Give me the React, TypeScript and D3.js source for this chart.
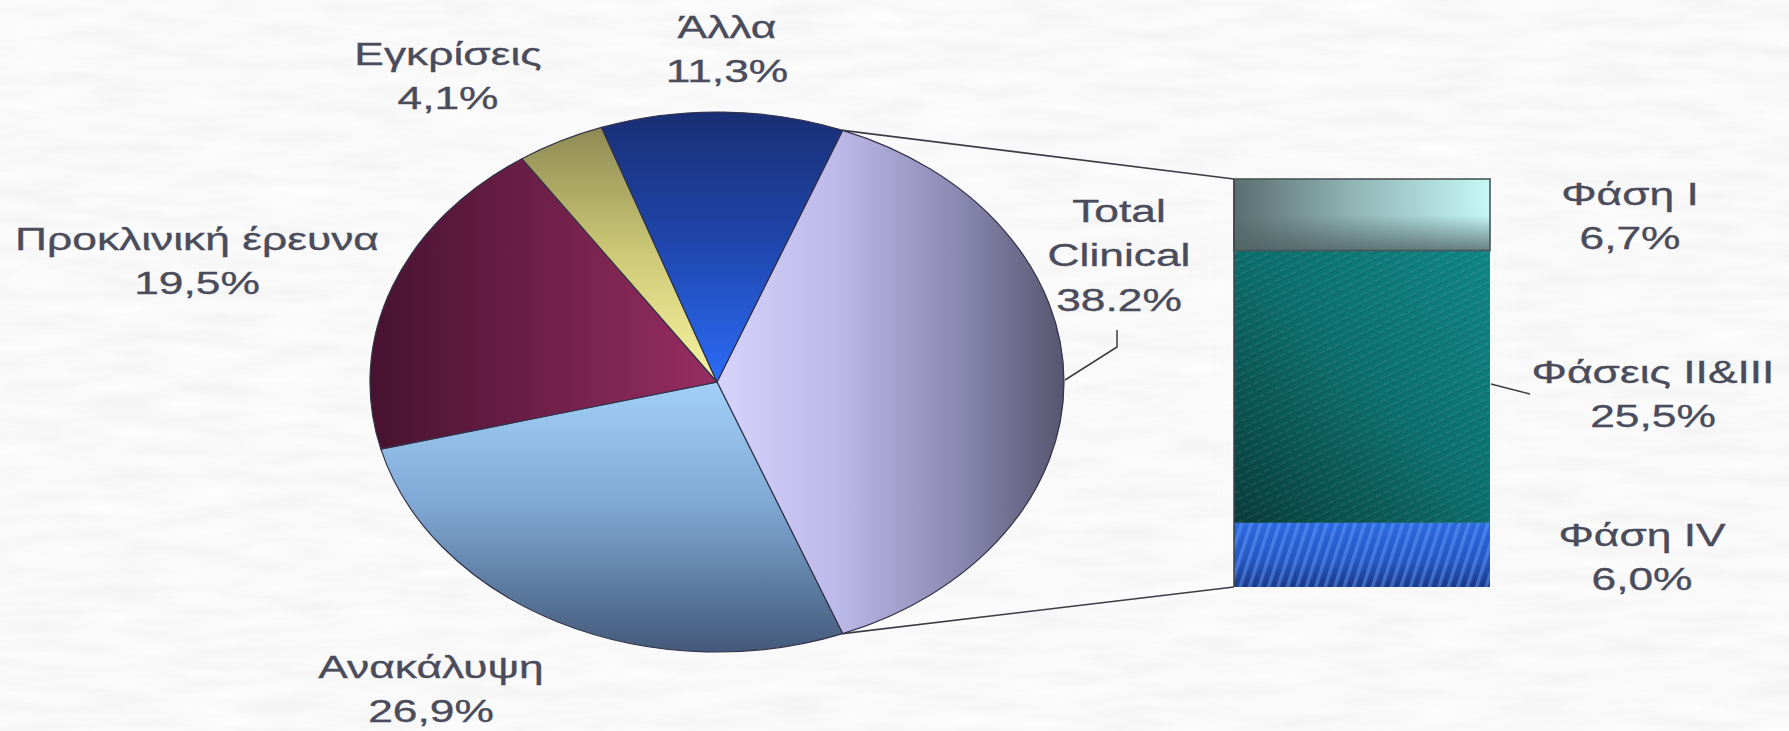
import React from "react";
import * as d3 from "d3";

// ---- Data ----
const pieCategories = ["Total Clinical", "Ανακάλυψη", "Προκλινική έρευνα", "Εγκρίσεις", "Άλλα"];
const pieValues = [38.2, 26.9, 19.5, 4.1, 11.3];
const pieValueLabels = ["38.2%", "26,9%", "19,5%", "4,1%", "11,3%"];
const pieNameLines = [["Total", "Clinical"], ["Ανακάλυψη"], ["Προκλινική έρευνα"], ["Εγκρίσεις"], ["Άλλα"]];

const barCategories = ["Φάση I", "Φάσεις II&III", "Φάση IV"];
const barValues = [6.7, 25.5, 6.0];
const barValueLabels = ["6,7%", "25,5%", "6,0%"];

// ---- Layout ----
const W = 1789;
const H = 731;
const cx = 717;
const cy = 382;
const R = 270;
const SX = 347 / 270;
const barX0 = 1234;
const barX1 = 1490;
const barY0 = 179;
const barY1 = 587;

const pieLabelPos: [number, number][] = [
  [1119, 222],
  [431, 678],
  [197, 250],
  [448, 65],
  [727, 38],
];
const barLabelPos: [number, number][] = [
  [1630, 205],
  [1653, 383],
  [1642, 546],
];

const FONT = "'Liberation Sans', Arial, sans-serif";
const TEXT_COLOR = "#4a4c5c";
const FS = 31;
const LH = 44.5;
const TSX = 1.43;

const sliceFills = ["url(#gTotal)", "url(#gDisc)", "url(#gPre)", "url(#gAppr)", "url(#gOther)"];

function Label({ x, y, lines }: { x: number; y: number; lines: string[] }) {
  return (
    <text
      transform={`translate(${x},${y}) scale(${TSX},1)`}
      textAnchor="middle"
      fontFamily={FONT}
      fontSize={FS}
      fill={TEXT_COLOR}
      stroke={TEXT_COLOR}
      strokeWidth={0.35}
    >
      {lines.map((l, i) => (
        <tspan key={i} x={0} dy={i === 0 ? 0 : LH}>
          {l}
        </tspan>
      ))}
    </text>
  );
}

export default function App() {
  const total = d3.sum(pieValues);
  const clinicalFrac = pieValues[0] / total;
  const start = Math.PI / 2 - clinicalFrac * Math.PI;
  const pie = d3
    .pie<number>()
    .sort(null)
    .value((d) => d)
    .startAngle(start)
    .endAngle(start + 2 * Math.PI);
  const arcs = pie(pieValues);
  const arc = d3.arc<d3.PieArcDatum<number>>().innerRadius(0).outerRadius(R);

  const edge = (a: number): [number, number] => [cx + R * SX * Math.sin(a), cy - R * Math.cos(a)];
  const pTop = edge(arcs[0].startAngle);
  const pBot = edge(arcs[0].endAngle);

  const y = d3.scaleLinear().domain([0, d3.sum(barValues)]).range([barY0, barY1]);
  const cum = barValues.reduce<number[]>((acc, v, i) => {
    acc.push((i ? acc[i - 1] : 0) + v);
    return acc;
  }, []);
  const barFills = ["url(#gP1)", "url(#gP23)", "url(#gP4)"];
  const barOverlays = ["url(#gP1shade)", "url(#patP23)", "url(#patP4)"];

  const line = d3.line();
  const midP23 = y(cum[0] + barValues[1] * 0.49);

  return (
    <svg
      width={W}
      height={H}
      style={{ position: "absolute", left: 0, top: 0, display: "block" }}
      xmlns="http://www.w3.org/2000/svg"
    >
      <defs>
        <filter id="paper" x="0" y="0" width="100%" height="100%">
          <feTurbulence type="fractalNoise" baseFrequency="0.012 0.07" numOctaves="4" seed="7" />
          <feColorMatrix
            type="matrix"
            values="0.12 0 0 0 0.885  0.12 0 0 0 0.885  0.12 0 0 0 0.885  0 0 0 0 1"
          />
        </filter>
        <filter id="glow" x="-20%" y="-20%" width="140%" height="140%">
          <feGaussianBlur stdDeviation="14" />
        </filter>
        <linearGradient id="gTotal" x1="0" y1="0" x2="1" y2="0">
          <stop offset="0" stopColor="#d6d3fb" />
          <stop offset="0.35" stopColor="#bcb8e8" />
          <stop offset="0.7" stopColor="#8a88b0" />
          <stop offset="1" stopColor="#56566f" />
        </linearGradient>
        <linearGradient id="gDisc" x1="0" y1="0" x2="0" y2="1">
          <stop offset="0" stopColor="#a2d0f8" />
          <stop offset="0.45" stopColor="#7fa8d4" />
          <stop offset="1" stopColor="#43597a" />
        </linearGradient>
        <linearGradient id="gPre" x1="0" y1="0" x2="1" y2="0">
          <stop offset="0" stopColor="#481230" />
          <stop offset="0.5" stopColor="#6e2048" />
          <stop offset="1" stopColor="#982e62" />
        </linearGradient>
        <linearGradient id="gAppr" x1="0" y1="0" x2="0" y2="1">
          <stop offset="0" stopColor="#8e8a54" />
          <stop offset="0.5" stopColor="#cdc976" />
          <stop offset="1" stopColor="#f8f4a0" />
        </linearGradient>
        <linearGradient id="gOther" x1="0" y1="0" x2="0" y2="1">
          <stop offset="0" stopColor="#192f74" />
          <stop offset="0.45" stopColor="#1f44a8" />
          <stop offset="1" stopColor="#2b6cf8" />
        </linearGradient>
        <linearGradient id="gP1" x1="0" y1="0" x2="1" y2="0">
          <stop offset="0" stopColor="#5a6e70" />
          <stop offset="0.45" stopColor="#8fb2b2" />
          <stop offset="1" stopColor="#c6f8f8" />
        </linearGradient>
        <linearGradient id="gP1shade" x1="0" y1="0" x2="0" y2="1">
          <stop offset="0" stopColor="#4e6264" stopOpacity="0" />
          <stop offset="0.5" stopColor="#4e6264" stopOpacity="0" />
          <stop offset="1" stopColor="#4e6264" stopOpacity="0.8" />
        </linearGradient>
        <linearGradient id="gP23" x1="1" y1="0" x2="0" y2="1">
          <stop offset="0" stopColor="#0f8886" />
          <stop offset="0.5" stopColor="#0c6e6c" />
          <stop offset="1" stopColor="#083c3b" />
        </linearGradient>
        <pattern id="patP23" patternUnits="userSpaceOnUse" width="9" height="7" patternTransform="rotate(-25)">
          <ellipse cx="4.5" cy="3" rx="3.5" ry="1.3" fill="#ffffff" fillOpacity="0.07" />
          <ellipse cx="4.5" cy="4.6" rx="3.5" ry="0.9" fill="#000000" fillOpacity="0.12" />
        </pattern>
        <linearGradient id="gP4" x1="0" y1="0" x2="0" y2="1">
          <stop offset="0" stopColor="#2d6ae0" />
          <stop offset="0.6" stopColor="#2656c0" />
          <stop offset="1" stopColor="#1a3a8a" />
        </linearGradient>
        <pattern id="patP4" patternUnits="userSpaceOnUse" width="9" height="9" patternTransform="rotate(18)">
          <rect x="0" y="0" width="3.5" height="9" fill="#6aa2ff" fillOpacity="0.45" />
        </pattern>
      </defs>

      {/* background */}
      <rect x={0} y={0} width={W} height={H} fill="#eeeeee" />
      <rect x={0} y={0} width={W} height={H} filter="url(#paper)" />

      {/* soft halo */}
      <g filter="url(#glow)" opacity={0.7}>
        <ellipse cx={cx} cy={cy} rx={R * SX + 8} ry={R + 8} fill="#fafafa" />
        <rect x={barX0 - 8} y={barY0 - 8} width={barX1 - barX0 + 16} height={barY1 - barY0 + 16} fill="#fafafa" />
      </g>

      {/* connectors */}
      <path d={line([pTop, [barX0, barY0]]) || ""} stroke="#3c3c44" strokeWidth={1.6} fill="none" />
      <path d={line([pBot, [barX0, barY1]]) || ""} stroke="#3c3c44" strokeWidth={1.6} fill="none" />

      {/* pie */}
      <g transform={`translate(${cx},${cy}) scale(${SX},1)`}>
        {arcs.map((a, i) => (
          <path
            key={pieCategories[i]}
            d={arc(a) || ""}
            fill={sliceFills[i]}
            stroke="#33334a"
            strokeWidth={1.2}
            vectorEffect="non-scaling-stroke"
          />
        ))}
      </g>

      {/* bar of pie */}
      {barValues.map((v, i) => {
        const y0 = y(i ? cum[i - 1] : 0);
        const y1 = y(cum[i]);
        return (
          <g key={barCategories[i]}>
            <rect x={barX0} y={y0} width={barX1 - barX0} height={y1 - y0} fill={barFills[i]} />
            <rect x={barX0} y={y0} width={barX1 - barX0} height={y1 - y0} fill={barOverlays[i]} />
          </g>
        );
      })}
      <rect
        x={barX0}
        y={y(0)}
        width={barX1 - barX0}
        height={y(cum[0]) - y(0)}
        fill="none"
        stroke="#4a5556"
        strokeWidth={1.6}
      />
      <line x1={barX0} x2={barX0} y1={barY0} y2={barY1} stroke="#3f4a52" strokeWidth={1.6} />

      {/* leader lines */}
      <path
        d={line([[1117, 330], [1117, 347], [1065, 380]]) || ""}
        stroke="#3c3c44"
        strokeWidth={1.5}
        fill="none"
      />
      <path
        d={line([[barX1 + 1, midP23], [1530, midP23 + 10]]) || ""}
        stroke="#3c3c44"
        strokeWidth={1.5}
        fill="none"
      />

      {/* labels */}
      {pieCategories.map((c, i) => (
        <Label key={c} x={pieLabelPos[i][0]} y={pieLabelPos[i][1]} lines={[...pieNameLines[i], pieValueLabels[i]]} />
      ))}
      {barCategories.map((c, i) => (
        <Label key={c} x={barLabelPos[i][0]} y={barLabelPos[i][1]} lines={[c, barValueLabels[i]]} />
      ))}
    </svg>
  );
}
